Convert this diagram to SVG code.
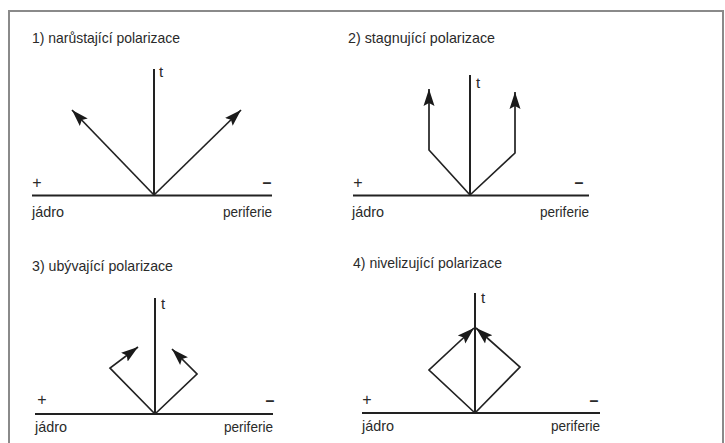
<svg xmlns="http://www.w3.org/2000/svg" width="725" height="443" viewBox="0 0 725 443">
<defs>
<style>
text{font-family:"Liberation Sans",Arial,sans-serif;font-size:15px;fill:#2a2a2a}
.axis{stroke:#222;stroke-width:2;fill:none}
.br{stroke:#222;stroke-width:1.7;fill:none;marker-end:url(#ah)}
.plus{font-size:16px}
.minus{font-size:16px;font-weight:bold}
</style>
<marker id="ah" markerUnits="userSpaceOnUse" markerWidth="18" markerHeight="14" viewBox="0 0 18 14" refX="17" refY="7" orient="auto">
<path d="M0,1.5 L17,7 L0,12.5 L3,7 Z" fill="#1a1a1a"/>
</marker>
</defs>
<rect x="9" y="11" width="714" height="440" fill="none" stroke="#8a8a8a" stroke-width="2"/>

<g id="panel1">
<text x="32" y="43" textLength="148" lengthAdjust="spacingAndGlyphs">1) narůstající polarizace</text>
<line class="axis" x1="32" y1="195.5" x2="272" y2="195.5"/>
<line class="axis" x1="154" y1="69" x2="154" y2="195"/>
<text x="159" y="77">t</text>
<text class="plus" x="37" y="188" text-anchor="middle">+</text>
<text class="minus" x="267" y="188" text-anchor="middle">–</text>
<text x="32" y="217" textLength="32" lengthAdjust="spacingAndGlyphs">jádro</text>
<text x="223" y="217" textLength="49" lengthAdjust="spacingAndGlyphs">periferie</text>
</g>

<g id="panel2">
<text x="348" y="43" textLength="147" lengthAdjust="spacingAndGlyphs">2) stagnující polarizace</text>
<line class="axis" x1="353" y1="195.5" x2="589" y2="195.5"/>
<line class="axis" x1="470" y1="75" x2="470" y2="195"/>
<text x="476" y="88">t</text>
<text class="plus" x="358" y="188" text-anchor="middle">+</text>
<text class="minus" x="579" y="188" text-anchor="middle">–</text>
<text x="352" y="217" textLength="32" lengthAdjust="spacingAndGlyphs">jádro</text>
<text x="540" y="217" textLength="49" lengthAdjust="spacingAndGlyphs">periferie</text>
</g>

<g id="panel3">
<text x="32" y="271" textLength="141" lengthAdjust="spacingAndGlyphs">3) ubývající polarizace</text>
<line class="axis" x1="35" y1="414" x2="273" y2="414"/>
<line class="axis" x1="155" y1="298" x2="155" y2="414"/>
<text x="161" y="309">t</text>
<text class="plus" x="42" y="405" text-anchor="middle">+</text>
<text class="minus" x="270" y="406" text-anchor="middle">–</text>
<text x="35" y="432" textLength="32" lengthAdjust="spacingAndGlyphs">jádro</text>
<text x="224" y="432" textLength="49" lengthAdjust="spacingAndGlyphs">periferie</text>
</g>

<g id="panel4">
<text x="353" y="268" textLength="149" lengthAdjust="spacingAndGlyphs">4) nivelizující polarizace</text>
<line class="axis" x1="362" y1="413" x2="600" y2="413"/>
<line class="axis" x1="475" y1="293" x2="475" y2="413"/>
<text x="481" y="303">t</text>
<text class="plus" x="367" y="405" text-anchor="middle">+</text>
<text class="minus" x="594" y="406" text-anchor="middle">–</text>
<text x="362" y="431" textLength="32" lengthAdjust="spacingAndGlyphs">jádro</text>
<text x="551" y="431" textLength="49" lengthAdjust="spacingAndGlyphs">periferie</text>
</g>

<g id="connectors">
<polyline class="br" points="154,195 72,110"/>
<polyline class="br" points="154,195 241,110"/>
<polyline class="br" points="470,195 429,150 429,89"/>
<polyline class="br" points="470,195 515,153 515,92"/>
<polyline class="br" points="155,414 110,368 138,347"/>
<polyline class="br" points="155,414 197,374 172,349"/>
<polyline class="br" points="475,413 429,370 474,328"/>
<polyline class="br" points="475,413 520,367 476,328"/>
</g>
</svg>
